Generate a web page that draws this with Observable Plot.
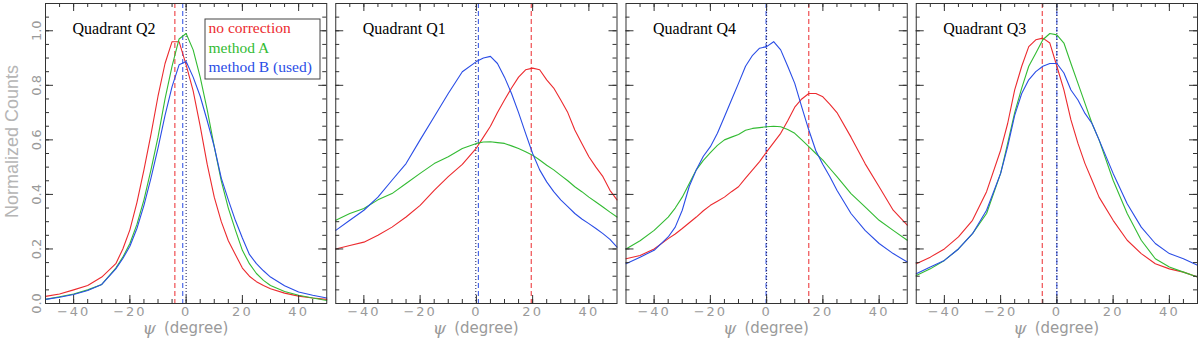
<!DOCTYPE html>
<html><head><meta charset="utf-8">
<script src="https://cdn.jsdelivr.net/npm/d3@7"></script>
<script src="https://cdn.jsdelivr.net/npm/@observablehq/plot@0.6"></script>
<style>
body{margin:0;background:#fff}
#chart{width:1200px;height:340px;overflow:hidden}
g[aria-label="x-axis tick label"] text{letter-spacing:2px}
</style>
</head><body><div id="chart"></div>
<script>
// ---- data ----
const panels = ["Q2", "Q1", "Q4", "Q3"];
const seriesNames = ["no correction", "method A", "method B (used)"];
const seriesColors = ["#ec2a2e", "#33bb33", "#2a4de6"];
const xTicks = [-40, -20, 0, 20, 40];
const yTicks = [0, 0.2, 0.4, 0.6, 0.8, 1.0];

// Quadrant Q2
const psiQ2 = [-50,-45,-40,-35,-30,-25,-22.5,-20,-17.5,-15,-12.5,-10,-7.5,-5,-2.5,0,2.5,5,7.5,10,12.5,15,17.5,20,22.5,25,27.5,30,35,40,45,50];
const q2NoCorr = [.026,.035,.05,.066,.097,.146,.2,.27,.37,.49,.62,.76,.88,.96,.96,.875,.78,.65,.51,.39,.3,.23,.18,.13,.10,.08,.066,.054,.038,.027,.02,.015];
const q2MethodA = [.015,.025,.035,.05,.07,.13,.17,.22,.29,.38,.49,.61,.75,.87,.97,.99,.93,.83,.71,.575,.45,.35,.27,.195,.146,.11,.085,.066,.044,.03,.02,.011];
const q2MethodB = [.015,.023,.033,.048,.07,.127,.165,.21,.275,.36,.46,.57,.69,.795,.875,.887,.83,.76,.67,.575,.46,.38,.305,.24,.18,.146,.12,.097,.065,.042,.03,.02];

// Quadrant Q1
const psiQ1 = [-50,-45,-40,-35,-30,-25,-20,-15,-10,-5,0,2.5,5,7.5,10,12.5,15,17.5,20,22.5,25,27.5,30,32.5,35,37.5,40,42.5,45,47.5,50];
const q1NoCorr = [.2,.213,.225,.25,.28,.317,.36,.415,.465,.51,.57,.61,.65,.70,.746,.79,.83,.857,.863,.857,.82,.79,.746,.70,.636,.587,.538,.50,.465,.415,.38];
const q1MethodA = [.305,.33,.348,.38,.403,.44,.477,.513,.538,.568,.587,.592,.593,.59,.587,.578,.568,.556,.544,.526,.507,.49,.47,.45,.428,.41,.39,.372,.354,.335,.317];
const q1MethodB = [.268,.305,.342,.39,.452,.513,.60,.685,.77,.85,.887,.90,.906,.88,.83,.77,.70,.624,.55,.49,.446,.41,.38,.355,.33,.31,.293,.275,.256,.235,.207];

// Quadrant Q4
const psiQ4 = [-50,-45,-40,-35,-32.5,-30,-27.5,-25,-22.5,-20,-17.5,-15,-12.5,-10,-7.5,-5,-2.5,0,2.5,5,7.5,10,12.5,15,17.5,20,22.5,25,30,35,40,45,50];
const q4NoCorr = [.164,.176,.2,.238,.255,.275,.296,.317,.34,.36,.375,.39,.41,.428,.46,.49,.52,.556,.59,.624,.67,.72,.75,.77,.77,.758,.73,.70,.61,.513,.428,.342,.287];
const q4MethodA = [.2,.23,.268,.317,.35,.39,.44,.49,.525,.553,.58,.60,.61,.62,.635,.642,.645,.648,.65,.648,.638,.624,.60,.575,.55,.526,.495,.465,.403,.354,.305,.268,.232];
const q4MethodB = [.146,.17,.195,.244,.28,.342,.43,.49,.54,.575,.624,.685,.746,.807,.87,.91,.936,.942,.96,.93,.87,.807,.72,.636,.56,.51,.465,.415,.33,.268,.22,.183,.152];

// Quadrant Q3
const psiQ3 = [-50,-45,-40,-35,-30,-25,-20,-17.5,-15,-12.5,-10,-7.5,-5,-2.5,0,2.5,5,7.5,10,12.5,15,20,25,30,35,40,45,50];
const q3NoCorr = [.146,.17,.2,.244,.305,.41,.562,.66,.783,.87,.942,.967,.973,.955,.87,.783,.673,.587,.513,.452,.39,.305,.232,.183,.146,.127,.115,.097];
const q3MethodA = [.103,.127,.158,.2,.256,.33,.477,.587,.70,.79,.87,.918,.967,.99,.985,.955,.88,.807,.734,.66,.60,.452,.33,.232,.164,.134,.115,.097];
const q3MethodB = [.109,.134,.158,.2,.256,.342,.477,.575,.69,.77,.82,.85,.87,.88,.88,.845,.783,.746,.697,.66,.60,.477,.366,.28,.22,.183,.164,.14];

// vertical marker lines (peak positions)
const markerPanel = ["Q2","Q2","Q2","Q1","Q1","Q1","Q4","Q4","Q4","Q3","Q3","Q3"];
const markerKind  = ["no correction","method B (used)","reference","no correction","method B (used)","reference","no correction","method B (used)","reference","no correction","method B (used)","reference"];
const markerPsi   = [-4.0,-1.2,0, 19.5,0.7,-0.2, 15.0,-0.2,0, -5.2,0,0];

// ---- build tables ----
const curves = [
  {panel: "Q2", psi: psiQ2, values: [q2NoCorr, q2MethodA, q2MethodB]},
  {panel: "Q1", psi: psiQ1, values: [q1NoCorr, q1MethodA, q1MethodB]},
  {panel: "Q4", psi: psiQ4, values: [q4NoCorr, q4MethodA, q4MethodB]},
  {panel: "Q3", psi: psiQ3, values: [q3NoCorr, q3MethodA, q3MethodB]}
];
const rows = curves.flatMap(c => c.values.flatMap((vals, si) =>
  vals.map((v, i) => ({panel: c.panel, series: seriesNames[si], psi: c.psi[i], v}))));
const markers = markerPanel.map((p, i) => ({panel: p, kind: markerKind[i], psi: markerPsi[i]}));

const xMinor = d3.range(-45, 50, 5);
const yMinor = d3.range(1, 22).map(i => i * 0.05);
const yMajor = yTicks.filter(d => d > 0);

// ---- layout ----
const W = 1200, H = 340, mL = 45, mR = 3, mT = 3, mB = 37;
const pad = 0.031;
const step = (W - mL - mR) / (4 - pad);
const bw = step * (1 - pad);
const fh = H - mT - mB;
const frameColor = "#333";
const textGray = "#9a9a9a";

const firstPanel = [panels[0]];
const legendDy = [25, 45, 64];

const marks = [
  Plot.ruleX(markers.filter(d => d.kind === "no correction"), {fx: "panel", x: "psi", stroke: seriesColors[0], strokeWidth: 1, strokeDasharray: "5,3"}),
  Plot.ruleX(markers.filter(d => d.kind === "method B (used)"), {fx: "panel", x: "psi", stroke: seriesColors[2], strokeWidth: 1, strokeDasharray: "5,3"}),
  Plot.ruleX(markers.filter(d => d.kind === "reference"), {fx: "panel", x: "psi", stroke: "#1a1a50", strokeWidth: 1, strokeDasharray: "1,2"}),
  Plot.line(rows, {fx: "panel", x: "psi", y: "v", z: "series", stroke: "series", strokeWidth: 1.1}),
  // inward ticks
  Plot.tickX(xMinor, {insetTop: fh - 4, stroke: frameColor}),
  Plot.tickX(xMinor, {insetBottom: fh - 4, stroke: frameColor}),
  Plot.tickX(xTicks, {insetTop: fh - 8, stroke: frameColor}),
  Plot.tickX(xTicks, {insetBottom: fh - 8, stroke: frameColor}),
  Plot.tickY(yMinor, {insetRight: bw - 4, stroke: frameColor}),
  Plot.tickY(yMinor, {insetLeft: bw - 4, stroke: frameColor}),
  Plot.tickY(yMajor, {insetRight: bw - 8, stroke: frameColor}),
  Plot.tickY(yMajor, {insetLeft: bw - 8, stroke: frameColor}),
  Plot.frame({stroke: frameColor, strokeWidth: 1}),
  // axes
  Plot.axisX(xTicks, {tickSize: 0, tickPadding: 3, fill: textGray, fontSize: 13,
    tickFormat: d => d < 0 ? "\u2212" + (-d) : String(d), label: null}),
  Plot.axisY(yTicks, {tickSize: 0, tickPadding: 5, tickRotate: -90, fill: textGray, fontSize: 13,
    tickFormat: d => d.toFixed(1), label: null}),
  Plot.text(firstPanel, {fx: d => d, text: () => "Normalized Counts", frameAnchor: "left", rotate: -90,
    dx: -33, dy: -12, fill: "#b5b5b5", fontSize: 18, fontFamily: "Liberation Sans",
    textAnchor: "middle", lineAnchor: "middle"}),
  Plot.text(panels, {fx: d => d, text: () => "\u03c8", frameAnchor: "bottom", dx: -37, dy: 25,
    fill: textGray, fontSize: 17, fontFamily: "DejaVu Serif", fontStyle: "italic", lineAnchor: "middle"}),
  Plot.text(panels, {fx: d => d, text: () => "(degree)", frameAnchor: "bottom", dx: 10, dy: 25,
    fill: textGray, fontSize: 15, fontFamily: "DejaVu Sans", lineAnchor: "middle"}),
  // panel titles
  Plot.text(panels, {fx: d => d, text: d => "Quadrant " + d, frameAnchor: "top-left", dx: 27, dy: 25,
    fill: "black", fontSize: 16, fontFamily: "Liberation Serif", textAnchor: "start", lineAnchor: "middle"}),
  // legend box
  Plot.rect(firstPanel, {fx: d => d, insetLeft: 160, insetRight: bw - 275, insetTop: 16, insetBottom: fh - 76,
    fill: "white", stroke: "#444", strokeWidth: 1}),
  ...seriesNames.map((name, i) => Plot.text(firstPanel, {fx: d => d, text: () => name, frameAnchor: "top-left",
    dx: 163, dy: legendDy[i], fill: seriesColors[i], fontSize: 15.5, fontFamily: "Liberation Serif",
    textAnchor: "start", lineAnchor: "middle"}))
];

const chart = Plot.plot({
  width: W, height: H, marginLeft: mL, marginRight: mR, marginTop: mT, marginBottom: mB,
  style: {fontFamily: "DejaVu Sans", background: "white"},
  fx: {domain: panels, paddingInner: pad, paddingOuter: 0, round: false, axis: null, label: null},
  x: {domain: [-50, 50], axis: null},
  y: {domain: [0, 1.1], axis: null},
  color: {domain: seriesNames, range: seriesColors},
  marks
});
document.getElementById("chart").append(chart);
</script>
</body></html>
